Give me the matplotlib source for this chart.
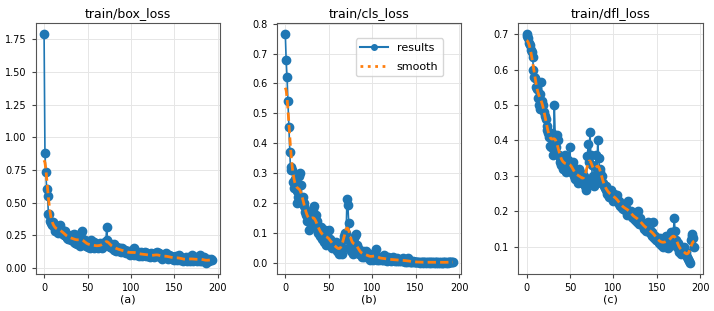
import numpy as np
import matplotlib
matplotlib.use("Agg")
import matplotlib.pyplot as plt
from matplotlib.lines import Line2D

titles = ["train/box_loss", "train/cls_loss", "train/dfl_loss"]
panel_labels = ["(a)", "(b)", "(c)"]

box_loss = [
    1.79, 0.88, 0.73, 0.60, 0.55, 0.41, 0.41, 0.36, 0.34, 0.33,
    0.35, 0.32, 0.30, 0.28, 0.31, 0.29, 0.27, 0.30, 0.33, 0.28,
    0.27, 0.29, 0.26, 0.25, 0.28, 0.24, 0.23, 0.25, 0.22, 0.24,
    0.23, 0.21, 0.25, 0.22, 0.20, 0.26, 0.19, 0.22, 0.18, 0.24,
    0.21, 0.17, 0.27, 0.20, 0.28, 0.19, 0.18, 0.21, 0.17, 0.20,
    0.19, 0.16, 0.18, 0.15, 0.21, 0.17, 0.16, 0.20, 0.15, 0.17,
    0.16, 0.18, 0.15, 0.17, 0.19, 0.16, 0.18, 0.15, 0.19, 0.17,
    0.20, 0.18, 0.31, 0.21, 0.19, 0.17, 0.16, 0.18, 0.15, 0.17,
    0.14, 0.18, 0.15, 0.13, 0.16, 0.14, 0.13, 0.15, 0.12, 0.14,
    0.15, 0.13, 0.12, 0.14, 0.11, 0.13, 0.12, 0.11, 0.13, 0.10,
    0.12, 0.11, 0.13, 0.10, 0.15, 0.12, 0.11, 0.10, 0.12, 0.09,
    0.11, 0.12, 0.10, 0.09, 0.11, 0.10, 0.12, 0.09, 0.10, 0.11,
    0.09, 0.10, 0.08, 0.11, 0.09, 0.10, 0.08, 0.09, 0.11, 0.10,
    0.12, 0.09, 0.11, 0.08, 0.10, 0.09, 0.07, 0.10, 0.08, 0.09,
    0.11, 0.08, 0.09, 0.07, 0.10, 0.08, 0.09, 0.07, 0.08, 0.06,
    0.08, 0.07, 0.09, 0.06, 0.08, 0.10, 0.07, 0.06, 0.08, 0.07,
    0.05, 0.07, 0.06, 0.08, 0.05, 0.07, 0.06, 0.08, 0.05, 0.07,
    0.10, 0.06, 0.05, 0.07, 0.06, 0.08, 0.05, 0.07, 0.06, 0.05,
    0.10, 0.07, 0.05, 0.06, 0.08, 0.05, 0.04, 0.06, 0.05, 0.07,
    0.05, 0.06, 0.07, 0.06,
]

cls_loss = [
    0.765, 0.677, 0.62, 0.54, 0.455, 0.37, 0.31, 0.32, 0.31, 0.27,
    0.25, 0.28, 0.26, 0.20, 0.24, 0.22, 0.29, 0.30, 0.26, 0.20,
    0.22, 0.19, 0.20, 0.17, 0.16, 0.14, 0.17, 0.11, 0.15, 0.12,
    0.16, 0.14, 0.18, 0.19, 0.13, 0.16, 0.12, 0.14, 0.10, 0.11,
    0.09, 0.12, 0.08, 0.11, 0.07, 0.09, 0.11, 0.06, 0.10, 0.08,
    0.11, 0.07, 0.08, 0.06, 0.05, 0.07, 0.06, 0.05, 0.07, 0.04,
    0.06, 0.04, 0.03, 0.05, 0.04, 0.03, 0.05, 0.08, 0.09, 0.10,
    0.10, 0.215, 0.195, 0.135, 0.07, 0.05, 0.04, 0.06, 0.03, 0.07,
    0.09, 0.095, 0.06, 0.04, 0.05, 0.03, 0.04, 0.03, 0.02, 0.04,
    0.03, 0.02, 0.03, 0.04, 0.02, 0.03, 0.02, 0.01, 0.02, 0.03,
    0.02, 0.01, 0.02, 0.03, 0.048, 0.02, 0.01, 0.02, 0.01, 0.02,
    0.015, 0.01, 0.02, 0.01, 0.025, 0.01, 0.015, 0.005, 0.02, 0.01,
    0.01, 0.015, 0.005, 0.01, 0.02, 0.01, 0.005, 0.01, 0.015, 0.005,
    0.01, 0.005, 0.01, 0.005, 0.01, 0.015, 0.005, 0.01, 0.003, 0.008,
    0.004, 0.015, 0.006, 0.003, 0.005, 0.004, 0.002, 0.005, 0.003, 0.004,
    0.003, 0.002, 0.004, 0.002, 0.003, 0.001, 0.003, 0.002, 0.001, 0.003,
    0.002, 0.003, 0.001, 0.002, 0.003, 0.001, 0.002, 0.002, 0.001, 0.003,
    0.002, 0.001, 0.002, 0.001, 0.002, 0.003, 0.001, 0.002, 0.001, 0.002,
    0.001, 0.002, 0.001, 0.003, 0.002, 0.001, 0.002, 0.001, 0.002, 0.004,
    0.003, 0.002, 0.003, 0.002,
]

dfl_loss = [
    0.700, 0.695, 0.690, 0.675, 0.670, 0.655, 0.650, 0.635, 0.600, 0.580,
    0.575, 0.550, 0.545, 0.520, 0.500, 0.490, 0.530, 0.565, 0.510, 0.500,
    0.480, 0.470, 0.460, 0.440, 0.430, 0.420, 0.410, 0.385, 0.380, 0.420,
    0.360, 0.380, 0.500, 0.410, 0.380, 0.415, 0.400, 0.360, 0.350, 0.340,
    0.330, 0.350, 0.320, 0.340, 0.360, 0.330, 0.310, 0.320, 0.345, 0.330,
    0.380, 0.310, 0.320, 0.340, 0.310, 0.300, 0.290, 0.320, 0.300, 0.280,
    0.320, 0.310, 0.290, 0.300, 0.280, 0.290, 0.300, 0.270, 0.260, 0.290,
    0.355, 0.390, 0.340, 0.425, 0.360, 0.330, 0.280, 0.300, 0.270, 0.290,
    0.360, 0.320, 0.400, 0.350, 0.320, 0.310, 0.280, 0.300, 0.280, 0.270,
    0.265, 0.270, 0.260, 0.250, 0.260, 0.240, 0.250, 0.260, 0.240, 0.230,
    0.245, 0.250, 0.240, 0.230, 0.245, 0.230, 0.220, 0.230, 0.215, 0.220,
    0.210, 0.205, 0.220, 0.210, 0.200, 0.210, 0.190, 0.230, 0.200, 0.190,
    0.200, 0.185, 0.190, 0.180, 0.195, 0.175, 0.180, 0.170, 0.200, 0.175,
    0.165, 0.180, 0.170, 0.160, 0.165, 0.150, 0.160, 0.155, 0.145, 0.150,
    0.170, 0.140, 0.145, 0.135, 0.140, 0.130, 0.170, 0.125, 0.130, 0.120,
    0.125, 0.115, 0.120, 0.110, 0.125, 0.105, 0.110, 0.100, 0.120, 0.115,
    0.100, 0.130, 0.120, 0.095, 0.130, 0.110, 0.140, 0.105, 0.120, 0.140,
    0.180, 0.145, 0.120, 0.100, 0.110, 0.090, 0.085, 0.100, 0.080, 0.090,
    0.090, 0.100, 0.080, 0.085, 0.075, 0.070, 0.065, 0.060, 0.055, 0.120,
    0.130, 0.135, 0.125, 0.100,
]

series = [box_loss, cls_loss, dfl_loss]


def gaussian_smooth(y, sigma=3.0):
    y = np.asarray(y, dtype=float)
    r = int(4 * sigma + 0.5)
    k = np.arange(-r, r + 1)
    w = np.exp(-0.5 * (k / sigma) ** 2)
    w /= w.sum()
    yp = np.pad(y, r, mode="reflect")  # numpy reflect == scipy mirror
    return np.convolve(yp, w, mode="valid")


plt.rcParams["font.family"] = "DejaVu Sans"
fig, axes = plt.subplots(1, 3, figsize=(7.14, 3.11), dpi=100)
fig.subplots_adjust(left=0.050, right=0.984, bottom=0.119, top=0.927, wspace=0.308)

blue = "#1f77b4"
orange = "#ff7f0e"
for ax, y, t, lab in zip(axes, series, titles, panel_labels):
    x = np.arange(len(y))
    ax.plot(x, y, marker="o", color=blue, lw=1.2, ms=6, label="results")
    ax.plot(x, gaussian_smooth(y), color=orange, ls=(0, (3.0, 1.5)), lw=2.0, label="smooth")
    ax.set_title(t, fontsize=9, pad=4)
    ax.set_xlabel(lab, fontsize=8, labelpad=1)
    ax.set_xticks([0, 50, 100, 150, 200])
    ax.tick_params(labelsize=7, length=3, color="#444444")
    ax.grid(True, color="#e6e6e6", lw=0.7)
    for s in ax.spines.values():
        s.set_color("#555555")

axes[2].set_yticks([0.1, 0.2, 0.3, 0.4, 0.5, 0.6, 0.7])

handles = [
    Line2D([], [], color=blue, marker="o", ms=4, lw=1.5),
    Line2D([], [], color=orange, ls=":", lw=2),
]
axes[1].legend(handles, ["results", "smooth"], loc="upper right", fontsize=8,
               bbox_to_anchor=(0.93, 0.96), handlelength=2.5, labelspacing=0.8)

fig.savefig("out.png", dpi=100)
